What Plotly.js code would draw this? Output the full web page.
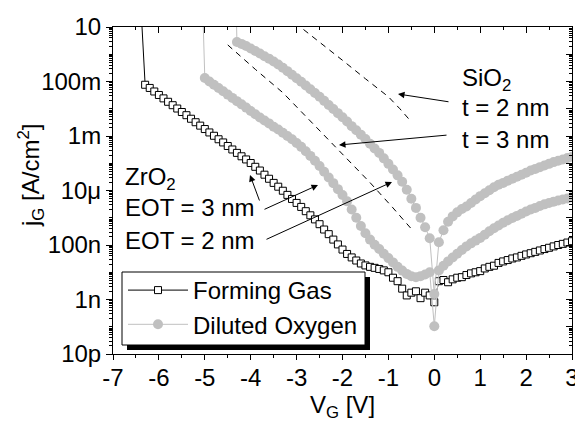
<!DOCTYPE html>
<html>
<head>
<meta charset="utf-8">
<script src="https://cdn.plot.ly/plotly-3.0.1.min.js"></script>
<style>html,body{margin:0;padding:0;background:#fff;}#chart{width:575px;height:430px;}</style>
</head>
<body>
<div id="chart"></div>
<script>
// ---- Forming Gas (ZrO2) ----
const fgV = [-6.4,-6.3,-6.2,-6.1,-6.0,-5.9,-5.8,-5.7,-5.6,-5.5,-5.4,-5.3,-5.2,-5.1,-5.0,-4.9,-4.8,-4.7,-4.6,-4.5,-4.4,-4.3,-4.2,-4.1,-4.0,-3.9,-3.8,-3.7,-3.6,-3.5,-3.4,-3.3,-3.2,-3.1,-3.0,-2.9,-2.8,-2.7,-2.6,-2.5,-2.4,-2.3,-2.2,-2.1,-2.0,-1.9,-1.8,-1.7,-1.6,-1.5,-1.4,-1.3,-1.2,-1.1,-1.0,-0.9,-0.8,-0.7,-0.6,-0.5,-0.4,-0.3,-0.2,-0.1,0.0,0.1,0.2,0.3,0.4,0.5,0.6,0.7,0.8,0.9,1.0,1.1,1.2,1.3,1.4,1.5,1.6,1.7,1.8,1.9,2.0,2.1,2.2,2.3,2.4,2.5,2.6,2.7,2.8,2.9,3.0];
const fgJ = [1e2,7.6e-2,5.8e-2,4.3e-2,3.2e-2,2.4e-2,1.8e-2,1.35e-2,1.02e-2,7.6e-3,5.8e-3,4.3e-3,3.2e-3,2.4e-3,1.8e-3,1.35e-3,1.02e-3,7.6e-4,5.8e-4,4.3e-4,3.2e-4,2.4e-4,1.8e-4,1.38e-4,1.02e-4,7.4e-5,5.4e-5,3.8e-5,2.7e-5,1.9e-5,1.38e-5,9.8e-6,6.9e-6,4.9e-6,3.5e-6,2.5e-6,1.74e-6,1.23e-6,8.7e-7,5.8e-7,3.7e-7,2.5e-7,1.58e-7,1.05e-7,6.8e-8,4.7e-8,3.5e-8,2.7e-8,2.1e-8,1.78e-8,1.58e-8,1.45e-8,1.32e-8,1.17e-8,1.0e-8,6.3e-9,4.7e-9,2.5e-9,1.41e-9,1.78e-9,2.0e-9,1.12e-9,1.78e-9,1.41e-9,7.9e-10,4.7e-9,5.2e-9,4.3e-9,5.5e-9,6.3e-9,6.6e-9,7.9e-9,9.1e-9,1.0e-8,1.10e-8,1.38e-8,1.58e-8,1.74e-8,2.2e-8,2.5e-8,2.8e-8,3.2e-8,3.5e-8,4.0e-8,4.5e-8,5.0e-8,5.6e-8,6.3e-8,7.1e-8,7.9e-8,8.9e-8,1.0e-7,1.10e-7,1.23e-7,1.38e-7];

// ---- Diluted Oxygen, first sample (lower branch) ----
const doAV = [-5.05,-5.0,-4.9,-4.8,-4.7,-4.6,-4.5,-4.4,-4.3,-4.2,-4.1,-4.0,-3.9,-3.8,-3.7,-3.6,-3.5,-3.4,-3.3,-3.2,-3.1,-3.0,-2.9,-2.8,-2.7,-2.6,-2.5,-2.4,-2.3,-2.2,-2.1,-2.0,-1.9,-1.8,-1.7,-1.6,-1.5,-1.4,-1.3,-1.2,-1.1,-1.0,-0.9,-0.8,-0.7,-0.6,-0.5,-0.4,-0.3,-0.2,-0.1,0.0,0.1,0.2,0.3,0.4,0.5,0.6,0.7,0.8,0.9,1.0,1.1,1.2,1.3,1.4,1.5,1.6,1.7,1.8,1.9,2.0,2.1,2.2,2.3,2.4,2.5,2.6,2.7,2.8,2.9,3.0];
const doAJ = [1e2,1.35e-1,1.0e-1,7.6e-2,5.8e-2,4.4e-2,3.3e-2,2.5e-2,1.9e-2,1.45e-2,1.10e-2,8.3e-3,6.3e-3,4.8e-3,3.7e-3,2.9e-3,2.2e-3,1.74e-3,1.32e-3,1.0e-3,7.6e-4,5.5e-4,4.0e-4,2.75e-4,1.86e-4,1.23e-4,7.9e-5,4.9e-5,3.0e-5,1.86e-5,1.12e-5,6.8e-6,4.0e-6,2.0e-6,1.0e-6,5.0e-7,2.7e-7,1.58e-7,1.02e-7,7.1e-8,4.8e-8,3.3e-8,2.3e-8,1.58e-8,1.15e-8,8.7e-9,7.1e-9,6.6e-9,7.2e-9,8.3e-9,1.0e-8,1.05e-10,1.17e-8,1.74e-8,2.5e-8,3.5e-8,4.8e-8,6.6e-8,8.9e-8,1.15e-7,1.45e-7,1.82e-7,2.4e-7,3.2e-7,4.1e-7,5.2e-7,6.6e-7,8.1e-7,9.8e-7,1.17e-6,1.41e-6,1.70e-6,2.0e-6,2.3e-6,2.7e-6,3.1e-6,3.5e-6,3.9e-6,4.3e-6,4.7e-6,5.1e-6,5.6e-6];

// ---- Diluted Oxygen, second sample (upper branch) ----
const doBV = [-4.32,-4.3,-4.2,-4.1,-4.0,-3.9,-3.8,-3.7,-3.6,-3.5,-3.4,-3.3,-3.2,-3.1,-3.0,-2.9,-2.8,-2.7,-2.6,-2.5,-2.4,-2.3,-2.2,-2.1,-2.0,-1.9,-1.8,-1.7,-1.6,-1.5,-1.4,-1.3,-1.2,-1.1,-1.0,-0.9,-0.8,-0.7,-0.6,-0.5,-0.4,-0.3,-0.2,-0.1,0.0,0.1,0.2,0.3,0.4,0.5,0.6,0.7,0.8,0.9,1.0,1.1,1.2,1.3,1.4,1.5,1.6,1.7,1.8,1.9,2.0,2.1,2.2,2.3,2.4,2.5,2.6,2.7,2.8,2.9,3.0];
const doBJ = [1e2,2.8,2.4,2.0,1.62,1.32,1.07,8.5e-1,6.9e-1,5.4e-1,4.2e-1,3.2e-1,2.4e-1,1.78e-1,1.32e-1,9.8e-2,7.1e-2,5.2e-2,3.8e-2,2.75e-2,1.95e-2,1.38e-2,9.8e-3,6.9e-3,4.9e-3,3.4e-3,2.3e-3,1.62e-3,1.12e-3,7.8e-4,5.2e-4,3.5e-4,2.4e-4,1.51e-4,9.5e-5,5.9e-5,3.6e-5,2.1e-5,1.07e-5,5.0e-6,2.3e-6,1.0e-6,4.5e-7,1.78e-7,1.58e-9,1.26e-7,3.5e-7,7.1e-7,1.12e-6,1.58e-6,2.1e-6,2.6e-6,3.5e-6,4.7e-6,6.2e-6,7.9e-6,1.02e-5,1.32e-5,1.62e-5,1.9e-5,2.3e-5,2.7e-5,3.2e-5,3.8e-5,4.5e-5,5.4e-5,6.2e-5,7.2e-5,8.3e-5,9.5e-5,1.10e-4,1.23e-4,1.38e-4,1.55e-4,1.74e-4];

// ---- SiO2 reference curves (dashed) ----
const sio2t2V = [-2.85,-2.4,-2.0,-1.5,-1.0,-0.75,-0.5];
const sio2t2J = [8.1,2.1,0.60,0.126,2.75e-2,1.0e-2,3.3e-3];
const sio2t3V = [-4.5,-3.9,-3.3,-2.6,-1.9,-1.4,-0.9,-0.5];
const sio2t3J = [2.2,0.28,3.9e-2,2.4e-3,1.35e-4,1.95e-5,2.3e-6,3.9e-7];

// ---- Tick labels ----
const xTickVals = [-7,-6,-5,-4,-3,-2,-1,0,1,2,3];
const xTickText = ['-7','-6','-5','-4','-3','-2','-1','0','1','2','3'];
const yTickVals = [10,0.1,1e-3,1e-5,1e-7,1e-9,1e-11];
const yTickText = ['10','100m','1m','10\u03bc','100n','1n','10p'];
const yMajorTicks = [10,1,0.1,1e-2,1e-3,1e-4,1e-5,1e-6,1e-7,1e-8,1e-9,1e-10,1e-11];

const GREY = '#c0c0c0';
const FONT = 'Liberation Sans, Arial, Helvetica, sans-serif';
const FS = 24;

const traces = [
  {x: sio2t2V, y: sio2t2J, mode: 'lines', line: {color: 'black', width: 1, dash: '6px,5px'}, showlegend: false, hoverinfo: 'skip'},
  {x: sio2t3V, y: sio2t3J, mode: 'lines', line: {color: 'black', width: 1, dash: '6px,5px'}, showlegend: false, hoverinfo: 'skip'},
  {x: fgV, y: fgJ, name: 'Forming Gas', mode: 'lines+markers',
   line: {color: 'black', width: 1},
   marker: {symbol: 'square', size: 7, color: 'white', line: {color: 'black', width: 1}}},
  {x: doAV, y: doAJ, name: 'Diluted Oxygen', legendgroup: 'do', mode: 'lines+markers',
   line: {color: GREY, width: 1}, marker: {symbol: 'circle', size: 10, color: GREY}},
  {x: doBV, y: doBJ, name: 'Diluted Oxygen', legendgroup: 'do', showlegend: false, mode: 'lines+markers',
   line: {color: GREY, width: 1}, marker: {symbol: 'circle', size: 10, color: GREY}},
  {x: [null], y: [null], xaxis: 'x2', yaxis: 'y2', mode: 'markers', showlegend: false, hoverinfo: 'skip'}
];

function px2paperX(p){ return (p - 113) / 459; }
function px2paperY(p){ return (354 - p) / 327; }

function label(text, pxX, pxY){
  return {xref: 'paper', yref: 'paper', x: px2paperX(pxX), y: px2paperY(pxY), xanchor: 'left', yanchor: 'middle',
          text: text, showarrow: false, font: {size: FS, color: 'black', family: FONT}};
}
function arrow(headX, headY, tailX, tailY){
  return {xref: 'paper', yref: 'paper', x: px2paperX(headX), y: px2paperY(headY), ax: tailX - headX, ay: tailY - headY,
          text: '', showarrow: true, arrowhead: 2, arrowsize: 1.3, arrowwidth: 1, arrowcolor: 'black', standoff: 0, startstandoff: 0};
}

const annotations = [
  {xref: 'paper', yref: 'paper', x: px2paperX(31), y: px2paperY(176), xanchor: 'center', yanchor: 'middle', textangle: -90,
   text: 'j<sub>G</sub> [A/cm<sup>2</sup>]', showarrow: false, font: {size: FS, color: 'black', family: FONT}},
  label('ZrO<sub>2</sub>', 123, 178),
  label('EOT = 3 nm', 123, 207),
  label('EOT = 2 nm', 123, 240),
  label('SiO<sub>2</sub>', 460, 79),
  label('t = 2 nm', 460, 108),
  label('t = 3 nm', 460, 139),
  arrow(398, 94, 450, 102),
  arrow(339, 145, 448, 135),
  arrow(250, 175, 260, 202),
  arrow(318, 185, 263, 210),
  arrow(392, 182, 265, 240)
];

// legend frame and its drop shadow (two black strips, right and bottom)
const bx0 = 122, bx1 = 365, by0 = 272, by1 = 345, sh = 5;
function rectPx(x0, x1, y0, y1, fill, lw){
  return {type: 'rect', xref: 'paper', yref: 'paper', x0: px2paperX(x0), x1: px2paperX(x1), y0: px2paperY(y1), y1: px2paperY(y0),
          fillcolor: fill, opacity: 1, line: {width: lw, color: 'black'}, layer: 'above'};
}
const shapes = [
  rectPx(bx1, bx1 + sh, by0 + sh, by1 + sh, 'black', 0),
  rectPx(bx0 + sh, bx1 + sh, by1, by1 + sh, 'black', 0),
  rectPx(bx0, bx1, by0, by1, 'white', 1)
];

const layout = {
  width: 575, height: 430,
  margin: {l: 113, r: 3, t: 27, b: 76},
  paper_bgcolor: 'white', plot_bgcolor: 'white',
  font: {family: FONT, size: FS, color: 'black'},
  showlegend: true,
  legend: {x: px2paperX(123), y: px2paperY(268), xanchor: 'left', yanchor: 'top', bgcolor: 'rgba(255,255,255,0)',
           borderwidth: 0, font: {size: FS, family: FONT}, itemwidth: 60, tracegroupgap: 0},
  xaxis: {range: [-7, 3], tickmode: 'array', tickvals: xTickVals, ticktext: xTickText, ticks: 'outside', ticklen: 5, tickwidth: 1,
          tickcolor: 'black', showline: true, linecolor: 'black', linewidth: 1, showgrid: false, zeroline: false,
          ticklabeloverflow: 'allow', ticklabelstandoff: -3,
          minor: {ticks: 'outside', dtick: 0.5, ticklen: 3, tickcolor: 'black', showgrid: false},
          tickfont: {size: FS}, title: {text: 'V<sub>G</sub> [V]', font: {size: FS}, standoff: 6}},
  yaxis: {type: 'log', range: [-11, 1], tickmode: 'array', tickvals: yTickVals, ticktext: yTickText, ticks: 'outside', ticklen: 6,
          tickwidth: 1, tickcolor: 'black', showline: true, linecolor: 'black', linewidth: 1, showgrid: false, zeroline: false,
          minor: {ticks: 'outside', dtick: 'D1', ticklen: 3, tickcolor: 'black', showgrid: false},
          tickfont: {size: FS}},
  xaxis2: {overlaying: 'x', side: 'top', anchor: 'y2', range: [-7, 3], tickmode: 'array', tickvals: xTickVals, ticks: 'inside', ticklen: 6,
           tickcolor: 'black', showticklabels: false, showline: true, linecolor: 'black', linewidth: 1, showgrid: false, zeroline: false,
           minor: {ticks: 'inside', dtick: 0.5, ticklen: 3, tickcolor: 'black', showgrid: false}},
  yaxis2: {overlaying: 'y', side: 'right', anchor: 'x2', type: 'log', range: [-11, 1], tickmode: 'array', tickvals: yMajorTicks,
           ticks: 'inside', ticklen: 6, tickcolor: 'black', showticklabels: false, showline: true, linecolor: 'black', linewidth: 1,
           showgrid: false, zeroline: false,
           minor: {ticks: 'inside', dtick: 'D1', ticklen: 3, tickcolor: 'black', showgrid: false}},
  annotations: annotations,
  shapes: shapes
};

Plotly.newPlot('chart', traces, layout, {displayModeBar: false, staticPlot: true});
</script>
</body>
</html>
